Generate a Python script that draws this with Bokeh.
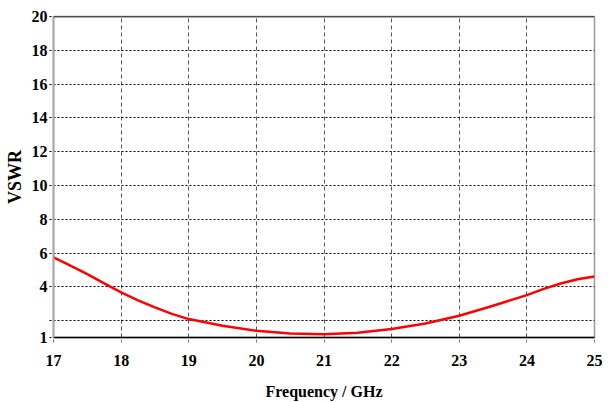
from bokeh.plotting import figure
from bokeh.models import Range1d, FixedTicker, Span
from bokeh.embed import file_html
from bokeh.resources import INLINE

freq = [17, 17.25, 17.5, 17.75, 18, 18.25, 18.5, 18.75, 19, 19.5, 20, 20.5, 21, 21.5, 22, 22.5, 23, 23.5, 24, 24.25, 24.5, 24.75, 25]
vswr = [5.74, 5.25, 4.75, 4.20, 3.67, 3.20, 2.78, 2.40, 2.09, 1.69, 1.40, 1.24, 1.19, 1.28, 1.50, 1.83, 2.29, 2.88, 3.51, 3.88, 4.20, 4.45, 4.61]

x_ticks = [17, 18, 19, 20, 21, 22, 23, 24, 25]
y_ticks = [1, 2, 4, 6, 8, 10, 12, 14, 16, 18, 20]
y_labels = {1: "1", 2: "", 4: "4", 6: "6", 8: "8", 10: "10", 12: "12",
            14: "14", 16: "16", 18: "18", 20: "20"}

FONT = "Liberation Serif"

p = figure(frame_width=541, frame_height=321, output_backend="svg", toolbar_location=None,
           x_range=Range1d(17, 25), y_range=Range1d(1, 20),
           min_border_left=53, min_border_right=15, min_border_top=16, min_border_bottom=65)
p.background_fill_color = "white"
p.border_fill_color = "white"
p.outline_line_color = "#9a9a9a"
p.outline_line_width = 1.5

p.xaxis.ticker = FixedTicker(ticks=x_ticks)
p.yaxis.ticker = FixedTicker(ticks=y_ticks)
p.yaxis.major_label_overrides = y_labels

for ax in (p.xaxis, p.yaxis):
    ax.major_label_text_font = FONT
    ax.major_label_text_font_style = "bold"
    ax.major_label_text_font_size = "16px"
    ax.major_label_text_color = "black"
    ax.axis_label_text_font = FONT
    ax.axis_label_text_font_style = "bold"
    ax.axis_label_text_color = "black"
    ax.minor_tick_line_color = None
    ax.major_tick_in = 0

p.xaxis.axis_label = "Frequency / GHz"
p.xaxis.axis_label_text_font_size = "16px"
p.yaxis.axis_label = "VSWR"
p.yaxis.axis_label_text_font_size = "18px"

p.xaxis.axis_line_color = "black"
p.xaxis.axis_line_width = 1.5
p.xaxis.major_tick_line_color = "#777777"
p.xaxis.major_tick_line_dash = "3 2"
p.xaxis.major_tick_out = 5
p.xaxis.major_label_standoff = 12
p.xaxis.axis_label_standoff = 14

p.yaxis.axis_line_color = "#aaaaaa"
p.yaxis.axis_line_width = 2
p.yaxis.major_tick_line_color = "black"
p.yaxis.major_tick_line_dash = "2 2"
p.yaxis.major_tick_out = 4
p.yaxis.major_label_standoff = 2
p.yaxis.axis_label_standoff = 4

p.xgrid.grid_line_color = "#555555"
p.xgrid.grid_line_dash = "4 3"
p.xgrid.grid_line_width = 1
p.ygrid.grid_line_color = "black"
p.ygrid.grid_line_dash = "2 2"
p.ygrid.grid_line_width = 1

p.add_layout(Span(location=20, dimension="width", line_color="black", line_width=1.5))

p.line(freq, vswr, line_color="#ff0000", line_width=2.5, line_join="round")

open("out.html", "w").write(file_html(p, INLINE))
